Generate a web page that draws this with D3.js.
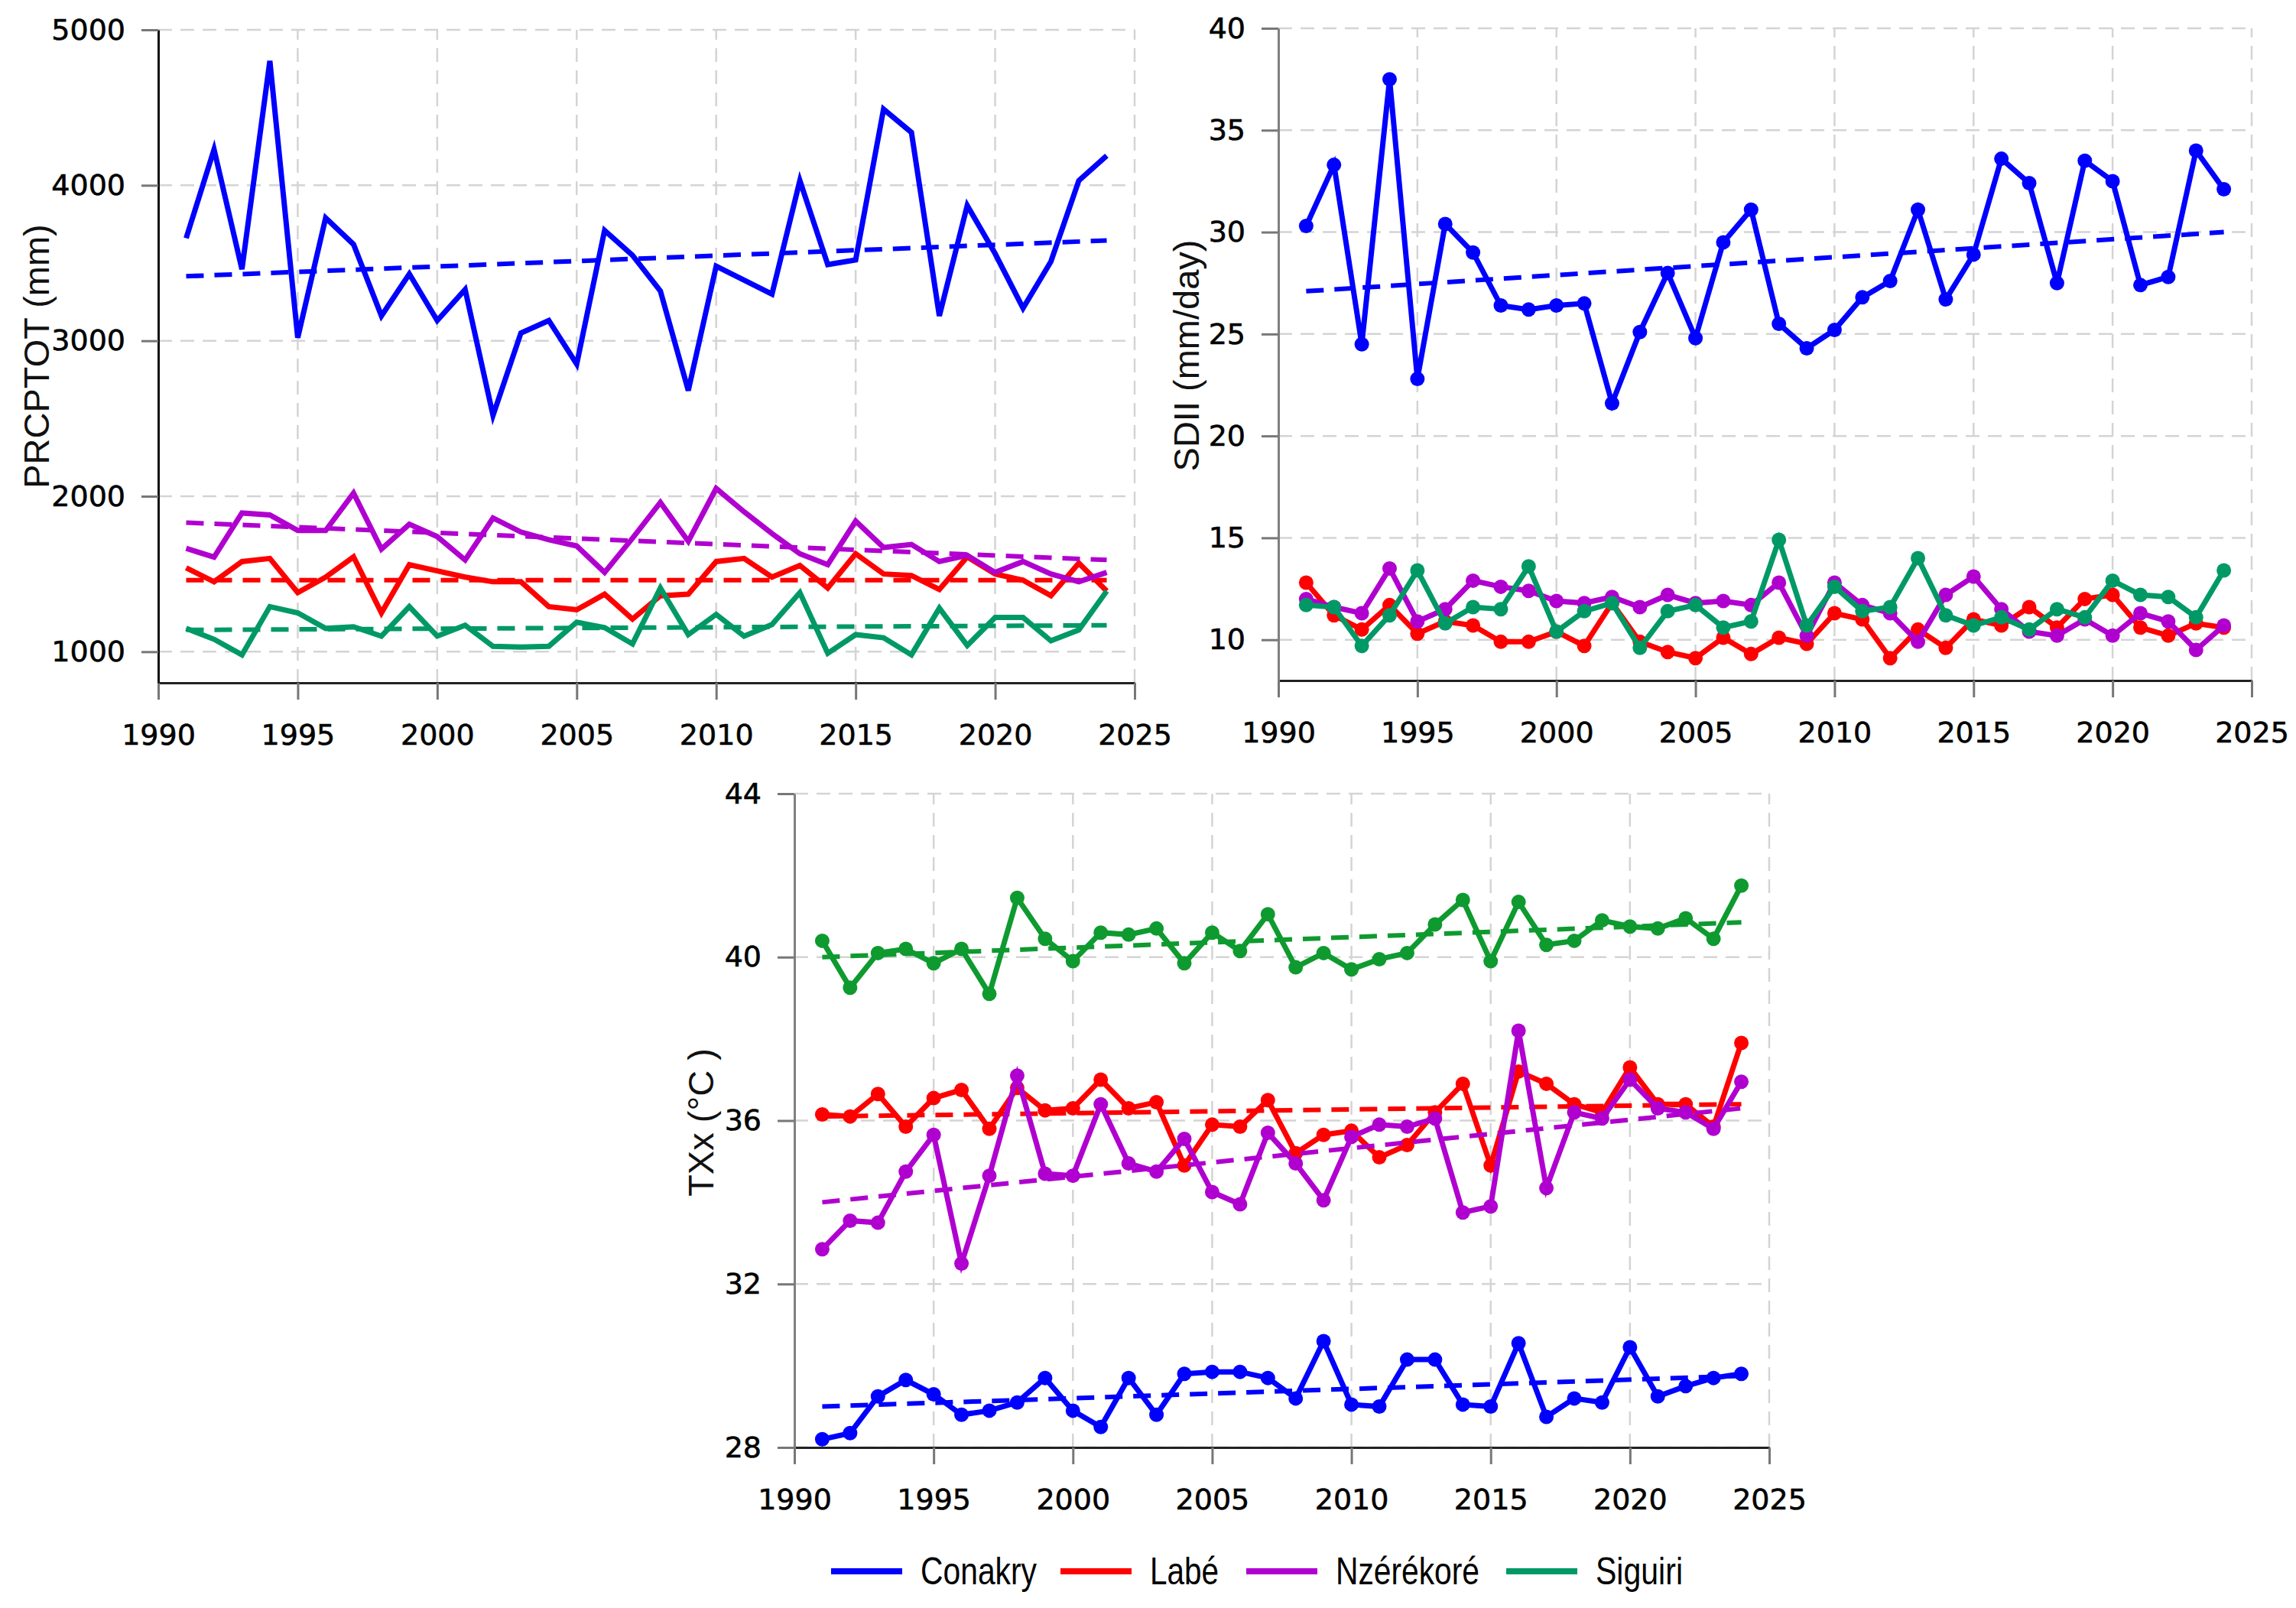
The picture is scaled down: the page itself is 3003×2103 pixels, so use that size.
<!DOCTYPE html>
<meta charset="utf-8">
<head>
<script src="https://d3js.org/d3.v7.min.js"></script>
<style>
  body { margin: 0; background: #fff; }
  svg { display: block; }
</style>
</head>
<body>
<svg id="chart" width="3003" height="2103"></svg>
<script>

var years = [1991,1992,1993,1994,1995,1996,1997,1998,1999,2000,2001,2002,2003,2004,2005,2006,2007,
             2008,2009,2010,2011,2012,2013,2014,2015,2016,2017,2018,2019,2020,2021,2022,2023,2024];
var stations = ["Conakry", "Labé", "Nzérékoré", "Siguiri"];
var xTicks = [1990, 1995, 2000, 2005, 2010, 2015, 2020, 2025];

// PRCPTOT (mm)
var conakryP  = [3660,4230,3460,4800,3020,3790,3620,3160,3430,3130,3330,2520,3050,3130,2850,
                 3710,3550,3320,2680,3480,3390,3300,4030,3490,3520,4490,4340,3160,3870,3560,3210,3510,4030,4190];
var labeP     = [1540,1450,1580,1600,1380,1480,1610,1250,1560,1520,1480,1450,1450,1290,1270,
                 1370,1210,1360,1370,1580,1600,1480,1555,1410,1630,1500,1490,1400,1610,1500,1460,1360,1570,1390];
var nzereP    = [1665,1608,1892,1880,1780,1780,2020,1660,1820,1740,1590,1860,1770,1720,1680,
                 1510,1730,1960,1710,2050,1900,1760,1630,1560,1840,1670,1690,1580,1620,1510,1580,1500,1450,1510];
var siguiriP  = [1150,1080,980,1290,1250,1150,1160,1100,1290,1100,1170,1035,1030,1035,1190,
                 1155,1050,1410,1110,1240,1100,1175,1380,990,1110,1090,980,1280,1040,1220,1220,1070,1140,1390];
var trendP    = [[3415,3645],[1460,1460],[1830,1590],[1140,1170]];   // 1991 -> 2024
var ticksP    = [1000,2000,3000,4000,5000];

// SDII (mm/day)
var conakryS  = [30.3,33.3,24.5,37.5,22.8,30.4,29.0,26.4,26.2,26.4,26.5,21.6,25.1,28.0,24.8,29.5,31.1,
                 25.5,24.3,25.2,26.8,27.6,31.1,26.7,28.9,33.6,32.4,27.5,33.5,32.5,27.4,27.8,34.0,32.1];
var labeS     = [12.8,11.2,10.5,11.7,10.3,10.9,10.7,9.9,9.9,10.4,9.7,11.8,9.9,9.4,9.1,
                 10.1,9.3,10.1,9.8,11.3,11.0,9.1,10.5,9.6,11.0,10.7,11.6,10.6,12.0,12.2,10.6,10.2,10.8,10.6];
var nzereS    = [12.0,11.6,11.3,13.5,10.9,11.5,12.9,12.6,12.4,11.9,11.8,12.1,11.6,12.2,11.8,
                 11.9,11.7,12.8,10.2,12.8,11.7,11.3,9.9,12.2,13.1,11.5,10.4,10.2,11.0,10.2,11.3,10.9,9.5,10.7];
var siguiriS  = [11.7,11.6,9.7,11.2,13.4,10.8,11.6,11.5,13.6,10.4,11.4,11.8,9.6,11.4,11.7,
                 10.6,10.9,14.9,10.7,12.6,11.4,11.6,14.0,11.2,10.7,11.1,10.5,11.5,11.1,12.9,12.2,12.1,11.1,13.4];
var trendS    = [[27.1,30.0],null,null,null];
var ticksS    = [10,15,20,25,30,35,40];

// TXx (°C)
var conakryT  = [28.2,28.35,29.25,29.65,29.3,28.8,28.9,29.1,29.7,28.9,28.5,29.7,28.8,29.8,29.85,29.85,
                 29.7,29.2,30.6,29.05,29.0,30.15,30.15,29.05,29.0,30.55,28.75,29.2,29.1,30.45,29.25,29.5,29.7,29.8];
var labeT     = [36.15,36.1,36.65,35.85,36.55,36.75,35.8,36.8,36.25,36.3,37.0,36.3,36.45,34.9,35.9,35.85,
                 36.5,35.2,35.65,35.75,35.1,35.4,36.2,36.9,34.9,37.2,36.9,36.4,36.2,37.3,36.4,36.4,35.85,37.9];
var nzereT    = [32.85,33.55,33.5,34.75,35.65,32.5,34.65,37.1,34.7,34.65,36.4,34.95,34.75,35.55,34.25,33.95,
                 35.7,34.95,34.05,35.6,35.9,35.85,36.05,33.75,33.9,38.2,34.35,36.2,36.05,37.0,36.3,36.2,35.8,36.95];
var siguiriT  = [40.4,39.25,40.1,40.2,39.85,40.2,39.1,41.45,40.45,39.9,40.6,40.55,40.7,39.85,40.6,40.15,
                 41.05,39.75,40.1,39.7,39.95,40.1,40.8,41.4,39.9,41.35,40.3,40.4,40.9,40.75,40.7,40.95,40.45,41.75];
var trendT    = [[29.0,29.75],[36.1,36.4],[34.0,36.3],[40.0,40.85]];
var ticksT    = [28,32,36,40,44];

var colorsTop = ["#0000ff", "#ff0000", "#b000d0", "#009966"];
var colorsBottom = ["#0000ff", "#ff0000", "#b000d0", "#0e9a2f"];

var svg = d3.select("#chart");
svg.append("rect").attr("width", 3003).attr("height", 2103).attr("fill", "#fff");

function drawPanel(cfg){
    var x = d3.scaleLinear().domain([1990, 2025]).range([cfg.left, cfg.right]);
    var y = d3.scaleLinear().domain(cfg.ydomain).range([cfg.bottom, cfg.top]);
    var g = svg.append("g");

    // grid
    g.selectAll(".hgrid").data(cfg.yticks).enter().append("line")
        .attr("x1", cfg.left).attr("x2", cfg.right)
        .attr("y1", function(d){return y(d);}).attr("y2", function(d){return y(d);})
        .attr("stroke", "#d4d4d4").attr("stroke-width", 2.5).attr("stroke-dasharray", "18,11");
    g.selectAll(".vgrid").data(xTicks.slice(1)).enter().append("line")
        .attr("x1", function(d){return x(d);}).attr("x2", function(d){return x(d);})
        .attr("y1", cfg.bottom).attr("y2", y(cfg.ydomain[1]))
        .attr("stroke", "#d4d4d4").attr("stroke-width", 2.5).attr("stroke-dasharray", "18,11");

    // axes
    var xa = g.append("g").attr("transform", "translate(0," + cfg.bottom + ")")
        .call(d3.axisBottom(x).tickValues(xTicks).tickFormat(d3.format("d"))
              .tickSize(22).tickSizeOuter(0).tickPadding(32));
    var ya = g.append("g").attr("transform", "translate(" + cfg.left + ",0)")
        .call(d3.axisLeft(y).tickValues(cfg.yticks).tickFormat(d3.format("d"))
              .tickSize(22).tickSizeOuter(0).tickPadding(21));
    [xa, ya].forEach(function(a){
        a.selectAll("text").attr("font-family", "'DejaVu Sans', Verdana, sans-serif")
            .attr("font-size", 38).attr("fill", "#000")
            .attr("stroke", "#000").attr("stroke-width", 0.6);
        a.selectAll(".tick line").attr("stroke", "#777").attr("stroke-width", 3);
        a.select(".domain").attr("stroke", cfg.axisColor).attr("stroke-width", 3);
    });
    xa.select(".domain").attr("stroke", "#222");

    g.append("text")
        .attr("transform", "translate(" + cfg.labelX + "," + cfg.labelY + ") rotate(-90)")
        .attr("text-anchor", "middle").attr("dominant-baseline", "central")
        .attr("font-family", "'Liberation Sans', Arial, sans-serif").attr("font-size", 47)
        .attr("fill", "#111").text(cfg.label);

    var line = d3.line().x(function(d){return x(d[0]);}).y(function(d){return y(d[1]);});

    cfg.series.forEach(function(vals, i){
        var pts = years.map(function(yr, k){return [yr, vals[k]];});
        g.append("path").datum(pts).attr("d", line)
            .attr("fill", "none").attr("stroke", cfg.colors[i]).attr("stroke-width", 7)
            .attr("stroke-linejoin", "miter");
        if (cfg.markers) {
            g.selectAll(null).data(pts).enter().append("circle")
                .attr("cx", function(d){return x(d[0]);}).attr("cy", function(d){return y(d[1]);})
                .attr("r", 9.5).attr("fill", cfg.colors[i]);
        }
        if (cfg.trends[i]) {
            var t = cfg.trends[i];
            g.append("path").datum([[years[0], t[0]], [years[years.length - 1], t[1]]]).attr("d", line)
                .attr("fill", "none").attr("stroke", cfg.colors[i]).attr("stroke-width", 6)
                .attr("stroke-dasharray", "23,14");
        }
    });
}

drawPanel({
    left: 207, right: 1484, top: 39, bottom: 893, ydomain: [800, 5000], yticks: ticksP,
    series: [conakryP, labeP, nzereP, siguiriP], trends: trendP, markers: false,
    colors: colorsTop, axisColor: "#111", label: "PRCPTOT (mm)", labelX: 47, labelY: 466
});
drawPanel({
    left: 1672, right: 2945, top: 37, bottom: 890, ydomain: [8, 40], yticks: ticksS,
    series: [conakryS, labeS, nzereS, siguiriS], trends: trendS, markers: true,
    colors: colorsTop, axisColor: "#808080", label: "SDII (mm/day)", labelX: 1551, labelY: 465
});
drawPanel({
    left: 1039, right: 2314, top: 1038, bottom: 1893, ydomain: [28, 44], yticks: ticksT,
    series: [conakryT, labeT, nzereT, siguiriT], trends: trendT, markers: true,
    colors: colorsBottom, axisColor: "#808080", label: "TXx (°C )", labelX: 916, labelY: 1468
});

// legend
var legendX = [1087, 1387, 1630, 1970];
var legendW = [152, 90, 188, 114];
var leg = svg.append("g");
stations.forEach(function(s, i){
    leg.append("line").attr("x1", legendX[i]).attr("x2", legendX[i] + 93)
        .attr("y1", 2055).attr("y2", 2055)
        .attr("stroke", colorsTop[i]).attr("stroke-width", 8);
    leg.append("text").attr("x", legendX[i] + 117).attr("y", 2055)
        .attr("dominant-baseline", "central")
        .attr("font-family", "'Liberation Sans', Arial, sans-serif")
        .attr("font-size", 50).attr("fill", "#000")
        .attr("textLength", legendW[i]).attr("lengthAdjust", "spacingAndGlyphs")
        .text(s);
});

</script>
</body>
